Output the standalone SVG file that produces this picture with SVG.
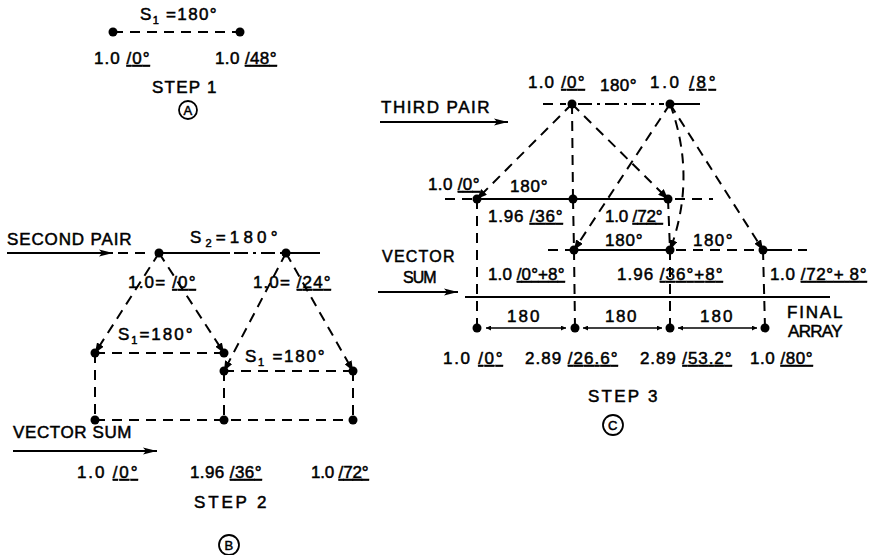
<svg xmlns="http://www.w3.org/2000/svg" width="874" height="555" viewBox="0 0 874 555">
<defs>
<style>
.ln{stroke:#000;stroke-width:2;fill:none}
.d{stroke-dasharray:10 7}
.dd{stroke-dasharray:14 5 3 5}
.t{font-family:"Liberation Sans",Arial,sans-serif;font-size:17px;fill:#000;stroke:#000;stroke-width:0.5px;letter-spacing:0.5px}
.u{text-decoration:underline}
.dot{fill:#000}
.cl{fill:none;stroke:#000;stroke-width:1.8}
.cl-t{font-size:13px;text-anchor:middle}
</style>
<marker id="ah" viewBox="0 0 10 10" refX="10" refY="5" markerWidth="5" markerHeight="5" orient="auto-start-reverse" markerUnits="userSpaceOnUse">
<path d="M0,0 L10,5 L0,10 z" fill="#000"/>
</marker>
<marker id="ab" viewBox="0 0 14 8" refX="14" refY="4" markerWidth="14" markerHeight="8" orient="auto-start-reverse" markerUnits="userSpaceOnUse">
<path d="M0,0.5 L14,4 L0,7.5 L3,4 z" fill="#000"/>
</marker>
<marker id="as" viewBox="0 0 10 8" refX="10" refY="4" markerWidth="10" markerHeight="8" orient="auto" markerUnits="userSpaceOnUse">
<path d="M0,0 L10,4 L0,8 z" fill="#000"/>
</marker>
</defs>
<rect width="874" height="555" fill="#fff"/>

<g id="connectors">
  <!-- Step 1 -->
  <line class="ln d" x1="113" y1="32" x2="240" y2="32"/>
  <!-- Step 2 -->
  <line class="ln" x1="7" y1="253" x2="113" y2="253" marker-end="url(#ab)"/>
  <line class="ln d" x1="118" y1="253" x2="152" y2="253"/>
  <line class="ln" x1="159" y1="253" x2="230" y2="253"/>
  <line class="ln dd" x1="234" y1="253" x2="282" y2="253"/>
  <line class="ln" x1="286" y1="253" x2="320" y2="253"/>
  <line class="ln d" x1="159" y1="253" x2="95" y2="353" marker-end="url(#as)"/>
  <line class="ln d" x1="159" y1="253" x2="224" y2="353" marker-end="url(#as)"/>
  <line class="ln d" x1="95" y1="353" x2="224" y2="353"/>
  <line class="ln d" x1="286" y1="253" x2="224" y2="371" marker-end="url(#as)"/>
  <line class="ln d" x1="286" y1="253" x2="353" y2="371" marker-end="url(#as)"/>
  <line class="ln d" x1="224" y1="371" x2="353" y2="371"/>
  <line class="ln d" x1="95" y1="353" x2="95" y2="420"/>
  <line class="ln d" x1="224" y1="371" x2="224" y2="420"/>
  <line class="ln d" x1="353" y1="371" x2="353" y2="420"/>
  <line class="ln d" x1="95" y1="420" x2="353" y2="420"/>
  <line class="ln" x1="13" y1="451" x2="157" y2="451" marker-end="url(#ab)"/>
  <!-- Step 3 -->
  <line class="ln" x1="380" y1="122" x2="508" y2="122" marker-end="url(#ab)"/>
  <line class="ln d" x1="543" y1="104" x2="566" y2="104"/>
  <line class="ln dd" x1="578" y1="104" x2="664" y2="104"/>
  <line class="ln" x1="670" y1="104" x2="700" y2="104"/>
  <line class="ln d" x1="572" y1="104" x2="477" y2="199" marker-end="url(#as)"/>
  <line class="ln d" x1="572" y1="104" x2="668" y2="199" marker-end="url(#as)"/>
  <line class="ln d" x1="572" y1="104" x2="573" y2="199"/>
  <line class="ln d" x1="573" y1="199" x2="574" y2="250"/>
  <line class="ln d" x1="574" y1="250" x2="575" y2="328"/>
  <line class="ln d" x1="670" y1="104" x2="574" y2="250" marker-end="url(#as)"/>
  <path class="ln d" d="M670,104 Q697,177 670,250" marker-end="url(#as)"/>
  <line class="ln d" x1="670" y1="104" x2="763" y2="250" marker-end="url(#as)"/>
  <line class="ln d" x1="668" y1="199" x2="670" y2="250"/>
  <line class="ln d" x1="670" y1="250" x2="670" y2="328"/>
  <line class="ln d" x1="477" y1="199" x2="477" y2="328"/>
  <line class="ln d" x1="763" y1="250" x2="765" y2="328"/>
  <line class="ln d" x1="445" y1="199" x2="472" y2="199"/>
  <line class="ln" x1="477" y1="199" x2="668" y2="199"/>
  <line class="ln d" x1="675" y1="199" x2="713" y2="199"/>
  <line class="ln d" x1="548" y1="250" x2="570" y2="250"/>
  <line class="ln" x1="574" y1="250" x2="670" y2="250"/>
  <line class="ln d" x1="676" y1="250" x2="758" y2="250"/>
  <line class="ln" x1="763" y1="250" x2="792" y2="250"/>
  <line class="ln" x1="798" y1="250" x2="807" y2="250"/>
  <line class="ln" x1="465" y1="297" x2="830" y2="297"/>
  <line class="ln" x1="378" y1="292" x2="458" y2="292" marker-end="url(#ab)"/>
  <line class="ln" x1="486" y1="328" x2="566" y2="328" marker-start="url(#ah)" marker-end="url(#ah)" style="stroke-width:1.5"/>
  <line class="ln" x1="583" y1="328" x2="662" y2="328" marker-start="url(#ah)" marker-end="url(#ah)" style="stroke-width:1.5"/>
  <line class="ln" x1="678" y1="328" x2="757" y2="328" marker-start="url(#ah)" marker-end="url(#ah)" style="stroke-width:1.5"/>
</g>

<g id="step1">
  <text class="t" x="140" y="20" textLength="77">S<tspan font-size="11" dy="4">1</tspan><tspan dy="-4"> =180°</tspan></text>
  <g id="n1a"><circle class="dot" cx="113" cy="32" r="4.5"/><text class="t" x="94" y="64" textLength="56">1.0 <tspan class="u">/0°</tspan></text></g>
  <g id="n1b"><circle class="dot" cx="240" cy="32" r="4.5"/><text class="t" x="215" y="64" textLength="62">1.0 <tspan class="u">/48°</tspan></text></g>
  <text class="t" x="152" y="93" textLength="65">STEP 1</text>
  <circle class="cl" cx="188" cy="110" r="9"/>
  <text class="t cl-t" x="188" y="115">A</text>
</g>

<g id="step2">
  <text class="t" x="7" y="245" textLength="125">SECOND PAIR</text>
  <text class="t" x="190" y="243" textLength="88">S<tspan font-size="11" dy="4">2</tspan><tspan dy="-4">=180°</tspan></text>
  <g id="n2a"><circle class="dot" cx="159" cy="253" r="4.5"/><text class="t" x="128" y="288" textLength="68">1.0= <tspan class="u">/0°</tspan></text></g>
  <g id="n2b"><circle class="dot" cx="286" cy="253" r="4.5"/><text class="t" x="253" y="288" textLength="78">1.0= <tspan class="u">/24°</tspan></text></g>
  <text class="t" x="118" y="340" textLength="75">S<tspan font-size="11" dy="4">1</tspan><tspan dy="-4">=180°</tspan></text>
  <text class="t" x="245" y="362" textLength="80">S<tspan font-size="11" dy="4">1</tspan><tspan dy="-4"> =180°</tspan></text>
  <g id="n2c"><circle class="dot" cx="95" cy="353" r="4.5"/></g>
  <g id="n2d"><circle class="dot" cx="224" cy="353" r="4.5"/></g>
  <g id="n2e"><circle class="dot" cx="224" cy="371" r="4.5"/></g>
  <g id="n2f"><circle class="dot" cx="353" cy="371" r="4.5"/></g>
  <g id="n2g"><circle class="dot" cx="95" cy="420" r="4.5"/><text class="t" x="77" y="478" textLength="61">1.0 <tspan class="u">/0°</tspan></text></g>
  <g id="n2h"><circle class="dot" cx="224" cy="420" r="4.5"/><text class="t" x="190" y="478" textLength="72">1.96 <tspan class="u">/36°</tspan></text></g>
  <g id="n2i"><circle class="dot" cx="353" cy="420" r="4.5"/><text class="t" x="311" y="478" textLength="58">1.0 <tspan class="u">/72°</tspan></text></g>
  <text class="t" x="13" y="438" textLength="119">VECTOR SUM</text>
  <text class="t" x="194" y="508" textLength="73">STEP 2</text>
  <circle class="cl" cx="229" cy="545" r="10"/>
  <text class="t cl-t" x="229" y="550">B</text>
</g>

<g id="step3">
  <text class="t" x="381" y="113" textLength="109">THIRD PAIR</text>
  <g id="n3a"><circle class="dot" cx="572" cy="104" r="4.5"/><text class="t" x="528" y="88" textLength="57">1.0 <tspan class="u">/0°</tspan></text></g>
  <text class="t" x="600" y="91" textLength="37">180°</text>
  <g id="n3b"><circle class="dot" cx="670" cy="104" r="4.5"/><text class="t" x="650" y="88" textLength="66">1.0 <tspan class="u">/8°</tspan></text></g>
  <g id="n3c"><circle class="dot" cx="477" cy="199" r="4.5"/><text class="t" x="428" y="190" textLength="52">1.0 <tspan class="u">/0°</tspan></text></g>
  <text class="t" x="510" y="192" textLength="38">180°</text>
  <g id="n3d"><circle class="dot" cx="573" cy="199" r="4.5"/><text class="t" x="488" y="222" textLength="75">1.96 <tspan class="u">/36°</tspan></text></g>
  <g id="n3e"><circle class="dot" cx="668" cy="199" r="4.5"/><text class="t" x="605" y="222" textLength="58">1.0 <tspan class="u">/72°</tspan></text></g>
  <g id="n3f"><circle class="dot" cx="574" cy="250" r="4.5"/><text class="t" x="488" y="280" textLength="77">1.0 <tspan class="u">/0°+8°</tspan></text></g>
  <text class="t" x="605" y="246" textLength="38">180°</text>
  <g id="n3g"><circle class="dot" cx="670" cy="250" r="4.5"/><text class="t" x="617" y="280" textLength="106">1.96 <tspan class="u">/36°+8°</tspan></text></g>
  <text class="t" x="693" y="246" textLength="40">180°</text>
  <g id="n3h"><circle class="dot" cx="763" cy="250" r="4.5"/><text class="t" x="770" y="280" textLength="97">1.0 <tspan class="u">/72°+ 8°</tspan></text></g>
  <text class="t" x="382" y="262" textLength="73" style="font-size:16px">VECTOR</text>
  <text class="t" x="403" y="283" textLength="34" style="font-size:16px">SUM</text>
  <text class="t" x="507" y="322" textLength="33">180</text>
  <text class="t" x="605" y="322" textLength="32">180</text>
  <text class="t" x="700" y="322" textLength="33">180</text>
  <text class="t" x="787" y="318" textLength="56">FINAL</text>
  <text class="t" x="788" y="337" textLength="55">ARRAY</text>
  <g id="n3i"><circle class="dot" cx="477" cy="328" r="4.5"/><text class="t" x="443" y="364" textLength="60">1.0 <tspan class="u">/0°</tspan></text></g>
  <g id="n3j"><circle class="dot" cx="575" cy="328" r="4.5"/><text class="t" x="525" y="364" textLength="93">2.89 <tspan class="u">/26.6°</tspan></text></g>
  <g id="n3k"><circle class="dot" cx="670" cy="328" r="4.5"/><text class="t" x="640" y="364" textLength="92">2.89 <tspan class="u">/53.2°</tspan></text></g>
  <g id="n3l"><circle class="dot" cx="765" cy="328" r="4.5"/><text class="t" x="750" y="364" textLength="63">1.0 <tspan class="u">/80°</tspan></text></g>
  <text class="t" x="588" y="402" textLength="70">STEP 3</text>
  <circle class="cl" cx="613" cy="425" r="10"/>
  <text class="t cl-t" x="613" y="430">C</text>
</g>
</svg>
